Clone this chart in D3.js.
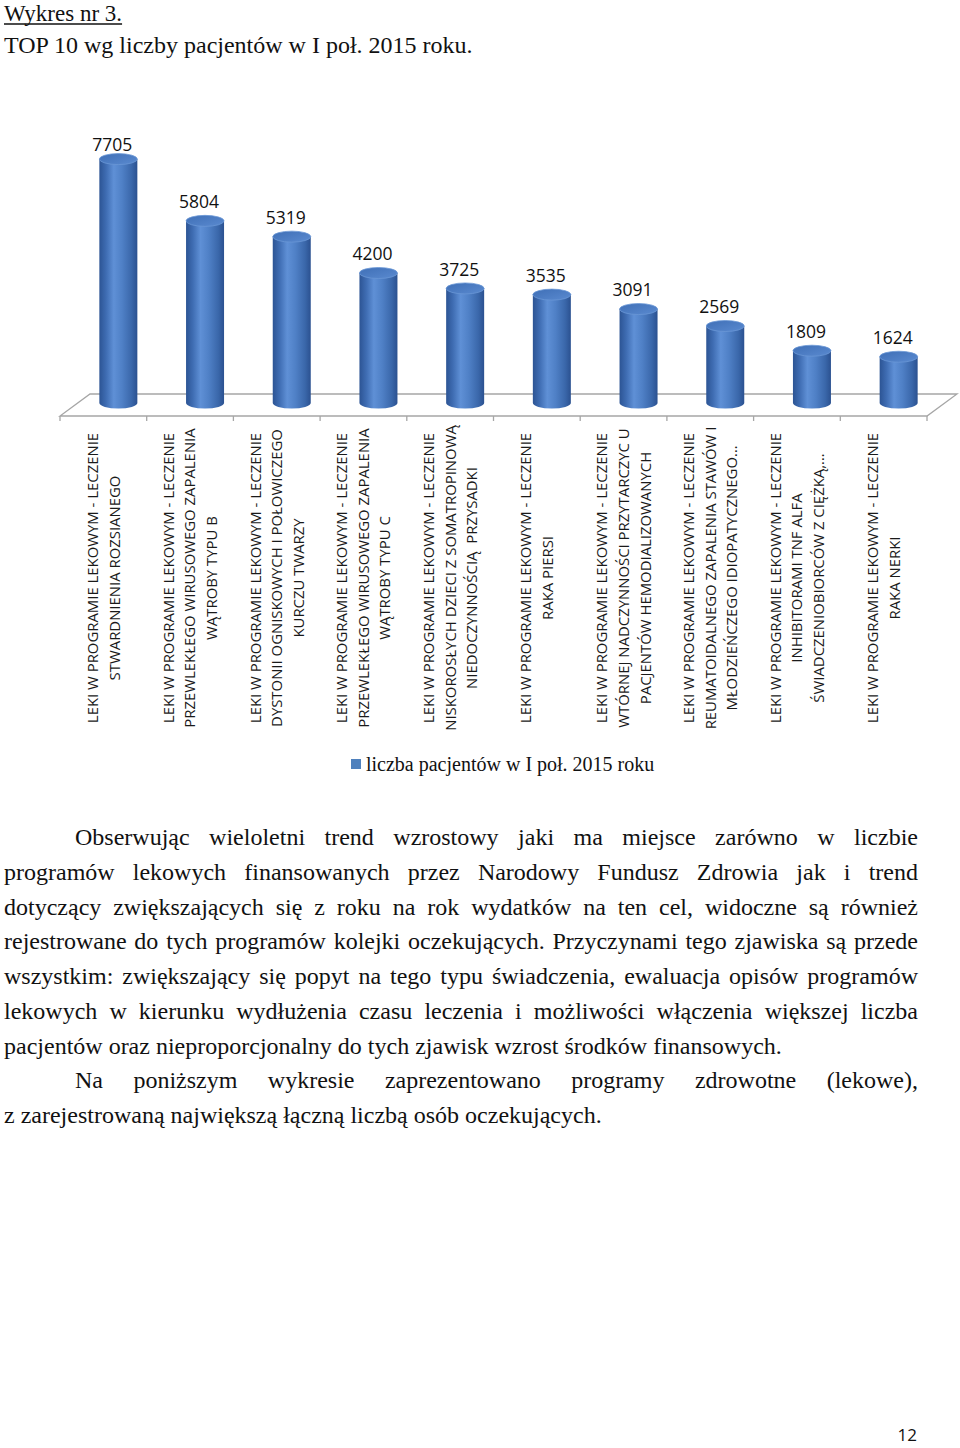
<!DOCTYPE html>
<html>
<head>
<meta charset="utf-8">
<script src="https://cdn.jsdelivr.net/npm/d3@7/dist/d3.min.js"></script>
<style>
  html, body { margin: 0; padding: 0; background: #fff; }
  svg { display: block; }
  text { white-space: pre; }
</style>
</head>
<body>
<svg id="page" width="960" height="1448"></svg>
<script>
// ---------- data ----------
const categories = [
  "LEKI W PROGRAMIE LEKOWYM - LECZENIE\nSTWARDNIENIA ROZSIANEGO",
  "LEKI W PROGRAMIE LEKOWYM - LECZENIE\nPRZEWLEKŁEGO WIRUSOWEGO ZAPALENIA\nWĄTROBY TYPU B",
  "LEKI W PROGRAMIE LEKOWYM - LECZENIE\nDYSTONII OGNISKOWYCH I POŁOWICZEGO\nKURCZU TWARZY",
  "LEKI W PROGRAMIE LEKOWYM - LECZENIE\nPRZEWLEKŁEGO WIRUSOWEGO ZAPALENIA\nWĄTROBY TYPU C",
  "LEKI W PROGRAMIE LEKOWYM - LECZENIE\nNISKOROSŁYCH DZIECI Z SOMATROPINOWĄ\nNIEDOCZYNNOŚCIĄ  PRZYSADKI",
  "LEKI W PROGRAMIE LEKOWYM - LECZENIE\nRAKA PIERSI",
  "LEKI W PROGRAMIE LEKOWYM - LECZENIE\nWTÓRNEJ NADCZYNNOŚCI PRZYTARCZYC U\nPACJENTÓW HEMODIALIZOWANYCH",
  "LEKI W PROGRAMIE LEKOWYM - LECZENIE\nREUMATOIDALNEGO ZAPALENIA STAWÓW I\nMŁODZIEŃCZEGO IDIOPATYCZNEGO…",
  "LEKI W PROGRAMIE LEKOWYM - LECZENIE\nINHIBITORAMI TNF ALFA\nŚWIADCZENIOBIORCÓW Z CIĘŻKĄ,…",
  "LEKI W PROGRAMIE LEKOWYM - LECZENIE\nRAKA NERKI"
];
const patients = [7705, 5804, 5319, 4200, 3725, 3535, 3091, 2569, 1809, 1624];
const seriesName = "liczba pacjentów w I poł. 2015 roku";

const titleLine1 = "Wykres nr 3.";
const titleLine2 = "TOP 10 wg liczby pacjentów w I poł. 2015 roku.";
const paragraph = [
  { t: "Obserwując wieloletni trend wzrostowy jaki ma miejsce zarówno w liczbie", indent: true, justify: true },
  { t: "programów lekowych finansowanych przez Narodowy Fundusz Zdrowia jak i trend", indent: false, justify: true },
  { t: "dotyczący zwiększających się z roku na rok wydatków na ten cel, widoczne są również", indent: false, justify: true },
  { t: "rejestrowane do tych programów kolejki oczekujących. Przyczynami tego zjawiska są przede", indent: false, justify: true },
  { t: "wszystkim: zwiększający się popyt na tego typu świadczenia, ewaluacja opisów programów", indent: false, justify: true },
  { t: "lekowych w kierunku wydłużenia czasu leczenia i możliwości włączenia większej liczba", indent: false, justify: true },
  { t: "pacjentów oraz nieproporcjonalny do tych zjawisk wzrost środków finansowych.", indent: false, justify: false },
  { t: "Na poniższym wykresie zaprezentowano programy zdrowotne (lekowe),", indent: true, justify: true },
  { t: "z zarejestrowaną największą łączną liczbą osób oczekujących.", indent: false, justify: false }
];
const pageNumber = "12";

// ---------- layout ----------
const svg = d3.select("#page");
svg.append("rect").attr("width", 960).attr("height", 1448).attr("fill", "#fff");

const serif = "'Liberation Serif','Times New Roman',serif";
const sans = "'Open Sans','Noto Sans',sans-serif";

// Title
const t1 = svg.append("text").attr("x", 4).attr("y", 20.5)
  .attr("font-family", serif).attr("font-size", 23).attr("fill", "#111").text(titleLine1);
const t1w = t1.node().getComputedTextLength();
svg.append("line").attr("x1", 4).attr("x2", 4 + t1w).attr("y1", 24).attr("y2", 24)
  .attr("stroke", "#111").attr("stroke-width", 1.3);
svg.append("text").attr("x", 4).attr("y", 53)
  .attr("font-family", serif).attr("font-size", 24).attr("fill", "#111").text(titleLine2);

// Scales
const floorFront = 416, floorBack = 394, depth = 30;
const x = d3.scaleBand().domain(categories).range([60, 927]).paddingInner(0).paddingOuter(0);
const y = d3.scaleLinear().domain([0, 8000]).range([409.5, 409.5 - 260]);
const barShift = 15, rx = 19, ry = 5.5, yBottom = 403;

// Defs
const defs = svg.append("defs");
const g1 = defs.append("linearGradient").attr("id", "cyl").attr("x1", "0").attr("x2", "1").attr("y1", "0").attr("y2", "0");
[["0%", "#2c5494"], ["18%", "#3f6db3"], ["38%", "#5f90d6"], ["60%", "#4f80c6"], ["85%", "#3a67aa"], ["100%", "#2b5190"]]
  .forEach(([o, c]) => g1.append("stop").attr("offset", o).attr("stop-color", c));
const g2 = defs.append("linearGradient").attr("id", "cap").attr("x1", "0").attr("x2", "1").attr("y1", "0").attr("y2", "1");
[["0%", "#3f6fb6"], ["100%", "#5a8ad0"]]
  .forEach(([o, c]) => g2.append("stop").attr("offset", o).attr("stop-color", c));

// Floor
const floor = svg.append("g");
floor.append("path")
  .attr("d", `M${x.range()[0]},${floorFront} L${x.range()[1]},${floorFront} L${x.range()[1] + depth},${floorBack} L${x.range()[0] + depth},${floorBack} Z`)
  .attr("fill", "#fff").attr("stroke", "#a6a6a6").attr("stroke-width", 1.3);
const boundaries = categories.map(c => x(c)).concat([x.range()[1]]);
floor.selectAll("line.tick").data(boundaries).join("line")
  .attr("x1", d => d).attr("x2", d => d).attr("y1", floorFront).attr("y2", floorFront + 5)
  .attr("stroke", "#a6a6a6").attr("stroke-width", 1.3);

// Cylinders
const bars = svg.append("g").selectAll("g.bar").data(categories.map((c, i) => ({ c, v: patients[i] }))).join("g");
bars.each(function (d) {
  const g = d3.select(this);
  const cx = x(d.c) + x.bandwidth() / 2 + barShift;
  const yt = y(d.v);
  g.append("path")
    .attr("d", `M${cx - rx},${yt} L${cx - rx},${yBottom} A${rx},${ry} 0 0 0 ${cx + rx},${yBottom} L${cx + rx},${yt} Z`)
    .attr("fill", "url(#cyl)");
  g.append("ellipse").attr("cx", cx).attr("cy", yt).attr("rx", rx).attr("ry", ry)
    .attr("fill", "url(#cap)").attr("stroke", "#6a97d6").attr("stroke-width", 0.8);
  g.append("text").attr("x", cx - 6).attr("y", Math.max(yt - 19, 145) + 6.3)
    .attr("text-anchor", "middle").attr("font-family", sans).attr("font-size", 17.5)
    .attr("fill", "#111").text(d3.format("d")(d.v));
});

// Category labels (rotated)
const lineGap = 21.6, labelCenterY = 578;
const labels = svg.append("g");
categories.forEach(c => {
  const lines = c.split("\n");
  const cxl = x(c) + x.bandwidth() / 2;
  lines.forEach((ln, j) => {
    const lx = cxl + (j - (lines.length - 1) / 2) * lineGap;
    labels.append("text")
      .attr("transform", `translate(${lx},${labelCenterY}) rotate(-90)`)
      .attr("text-anchor", "middle").attr("dy", "0.36em")
      .attr("font-family", sans).attr("font-size", 14.9).attr("fill", "#1a1a1a")
      .text(ln);
  });
});

// Legend
svg.append("rect").attr("x", 351).attr("y", 759).attr("width", 10).attr("height", 10).attr("fill", "#4f81bd");
svg.append("text").attr("x", 366).attr("y", 771).attr("font-family", serif).attr("font-size", 20)
  .attr("fill", "#111").text(seriesName);

// Paragraph (justified)
const left = 4, right = 918, indentX = 75, base0 = 845, lh = 34.75;
paragraph.forEach((p, i) => {
  const by = base0 + i * lh;
  const x0 = p.indent ? indentX : left;
  const txt = svg.append("text").attr("y", by).attr("font-family", serif).attr("font-size", 24).attr("fill", "#111");
  if (!p.justify) {
    txt.attr("x", x0).text(p.t);
    return;
  }
  const words = p.t.split(" ");
  const spans = words.map(w => txt.append("tspan").text(w));
  const widths = spans.map(s => s.node().getComputedTextLength());
  const total = d3.sum(widths);
  const gap = (right - x0 - total) / (words.length - 1);
  let cur = x0;
  spans.forEach((s, k) => { s.attr("x", cur); cur += widths[k] + gap; });
});

// Page number
svg.append("text").attr("x", 917).attr("y", 1441).attr("text-anchor", "end")
  .attr("font-family", sans).attr("font-size", 17).attr("fill", "#111").text(pageNumber);
</script>
</body>
</html>
